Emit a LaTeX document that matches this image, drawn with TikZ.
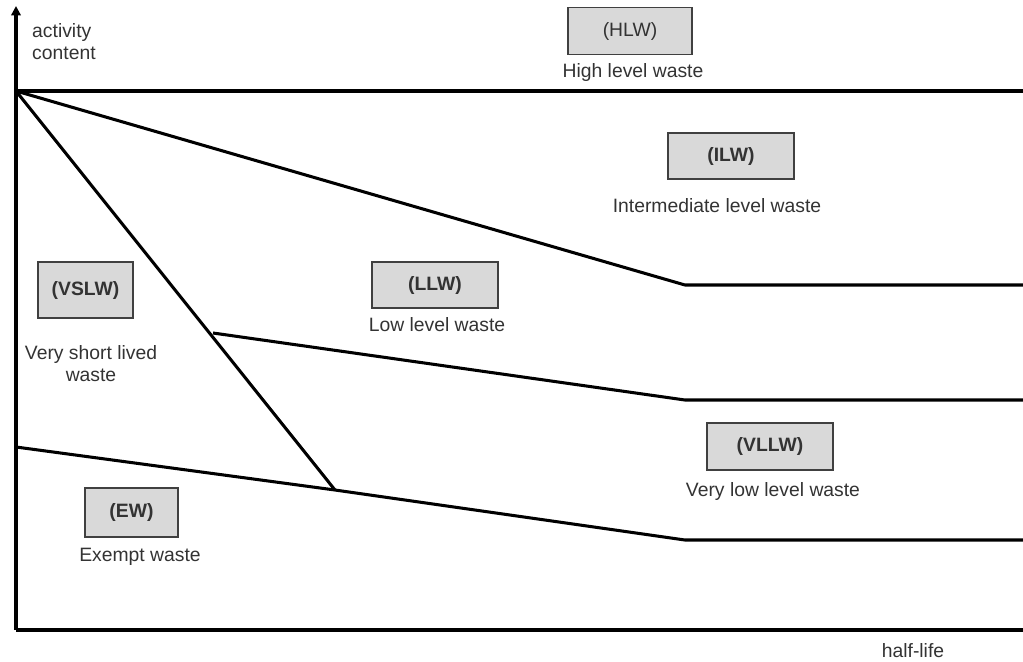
\documentclass[tikz,border=0pt]{standalone}
\usepackage{fontspec}
\setmainfont{Liberation Sans}
\usetikzlibrary{arrows.meta}
\definecolor{boxfill}{HTML}{D9D9D9}
\definecolor{boxdraw}{HTML}{404040}
\definecolor{txt}{HTML}{333333}
\tikzset{
  wbox/.style={draw=boxdraw, fill=boxfill, line width=1.6pt, inner sep=0pt, text=txt,
    font=\fontsize{16.5}{18.7}\selectfont},
  lbl/.style={text=txt, inner sep=0pt, align=center, font=\fontsize{16.5}{18.7}\selectfont},
  bound/.style={line width=2.6pt, black},
  axis/.style={line width=2.6pt, black}
}
\begin{document}
\begin{tikzpicture}[x=0.03cm, y=-0.03cm]
\useasboundingbox (0,0) rectangle (1023,661);
% key points
\coordinate (ytop) at (16,6);
\coordinate (orig) at (16,630);
\coordinate (xend) at (1023,630);
\coordinate (o) at (16,91);
\coordinate (hlwR) at (1023,91);
\coordinate (ilwK) at (685,285);
\coordinate (ilwR) at (1023,285);
\coordinate (llwL) at (213,333);
\coordinate (llwK) at (685,400);
\coordinate (llwR) at (1023,400);
\coordinate (vsK) at (335,490);
\coordinate (ewL) at (16,447);
\coordinate (ewK) at (685,540);
\coordinate (ewR) at (1023,540);
% axes
\draw[axis, -{Triangle[length=8pt,width=8pt]}] (orig) -- (ytop);
\draw[axis] (orig) -- (xend);
% boundaries
\draw[bound] (o) -- (hlwR);
\draw[bound, line join=round] (o) -- (ilwK) -- (ilwR);
\draw[bound, line join=round] (llwL) -- (llwK) -- (llwR);
\draw[bound] (o) -- (vsK);
\draw[bound, line join=round] (ewL) -- (vsK) -- (ewK) -- (ewR);
% boxes
\node[wbox, minimum width=3.72cm, minimum height=1.41cm] (hlw) at (630,31) {(HLW)};
\node[wbox, minimum width=3.78cm, minimum height=1.38cm] (ilw) at (731,156) {\bfseries (ILW)};
\node[wbox, minimum width=2.85cm, minimum height=1.68cm] (vslw) at (85.5,290) {\bfseries (VSLW)};
\node[wbox, minimum width=3.78cm, minimum height=1.38cm] (llw) at (435,285) {\bfseries (LLW)};
\node[wbox, minimum width=3.78cm, minimum height=1.41cm] (vllw) at (770,446.5) {\bfseries (VLLW)};
\node[wbox, minimum width=2.79cm, minimum height=1.47cm] (ew) at (131.5,512.5) {\bfseries (EW)};
% labels
\node[lbl] (hlwt) at (633,72) {High level waste};
\node[lbl] (ilwt) at (717,206) {Intermediate level waste};
\node[lbl] (vslwt) at (91,364) {Very short lived\\waste};
\node[lbl] (llwt) at (437,325) {Low level waste};
\node[lbl] (vllwt) at (773,491) {Very low level waste};
\node[lbl] (ewt) at (140,557) {Exempt waste};
\node[lbl] (hl) at (913,651) {half-life};
\node[lbl, align=left, anchor=west] (ac) at (32,42) {activity\\content};
\end{tikzpicture}
\end{document}
